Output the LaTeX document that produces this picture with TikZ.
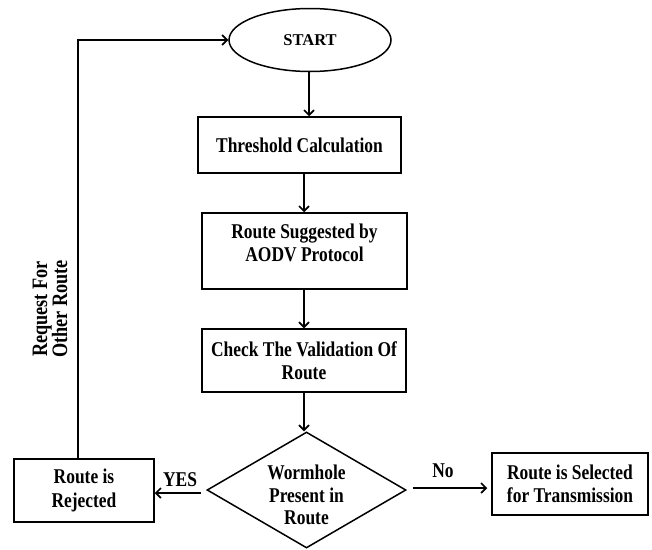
\documentclass[tikz,border=0pt]{standalone}
\usepackage{fontspec}
\setmainfont[FakeStretch=0.83]{Liberation Serif}
\newfontfamily\plainserif{Liberation Serif}
\usetikzlibrary{shapes.geometric,arrows.meta}
\begin{document}
\begin{tikzpicture}[x=1pt,y=1pt,
  every node/.style={font=\fontsize{21}{23.5}\selectfont\bfseries, align=center},
  box/.style={draw, line width=1.5pt, rectangle, inner sep=0pt},
  flow/.style={line width=1.7pt, -{Straight Barb[length=5pt,width=10pt,line width=1.7pt]}},
  plain/.style={line width=1.7pt}]
\useasboundingbox (0,0) rectangle (652,-549);

% shapes
\node[draw, line width=1.5pt, ellipse, minimum width=162, minimum height=63, inner sep=0pt,
      font=\plainserif\fontsize{16.5}{20}\selectfont\bfseries] (start) at (310,-40) {START};
\node[box, minimum width=203, minimum height=56] (thr) at (299.5,-145) {Threshold Calculation};
\node[box, minimum width=205, minimum height=76] (sug) at (304.5,-251) {};
\node (sugtxt) at (304.5,-243) {Route Suggested by\\AODV Protocol};
\node[box, minimum width=204, minimum height=63] (chk) at (304,-360.5) {Check The Validation Of\\Route};
\node[draw, line width=1.5pt, diamond, minimum width=199, minimum height=116, inner sep=0pt] (dia) at (306.5,-490) {};
\node[font=\fontsize{21}{22.5}\selectfont\bfseries] (diatxt) at (306.5,-495) {Wormhole\\Present in\\Route};
\node[box, minimum width=140, minimum height=63] (rej) at (84,-490.5) {Route is\\Rejected};
\node[box, minimum width=156, minimum height=62] (sel) at (570,-484) {Route is Selected\\for Transmission};

% connectors
\coordinate (s1) at (309,-40);
\draw[flow] (s1 |- start.south) -- (s1 |- thr.north);
\coordinate (s2) at (304,-200);
\draw[flow] (s2 |- thr.south) -- (s2 |- sug.north);
\draw[flow] (s2 |- sug.south) -- (s2 |- chk.north);
\draw[flow] (s2 |- chk.south) -- (s2 |- dia.north);
\draw[flow, shorten <=5pt] (dia.west) ++(0,-3) coordinate (dw) (dw) -- (rej.east |- dw);
\draw[flow, shorten <=6pt, shorten >=4pt] (dia.east) ++(0,2) coordinate (de) (de) -- (sel.west |- de);
\coordinate (up) at ([xshift=-6pt]rej.north);
\draw[flow] (up) |- (start.west);

% labels
\node (yes) at (180,-480) {YES};
\node (no) at (443,-471) {No};
\node[rotate=90, font=\fontsize{22}{20}\selectfont\bfseries] (req) at (50,-309) {Request For\\Other Route};
\end{tikzpicture}
\end{document}
